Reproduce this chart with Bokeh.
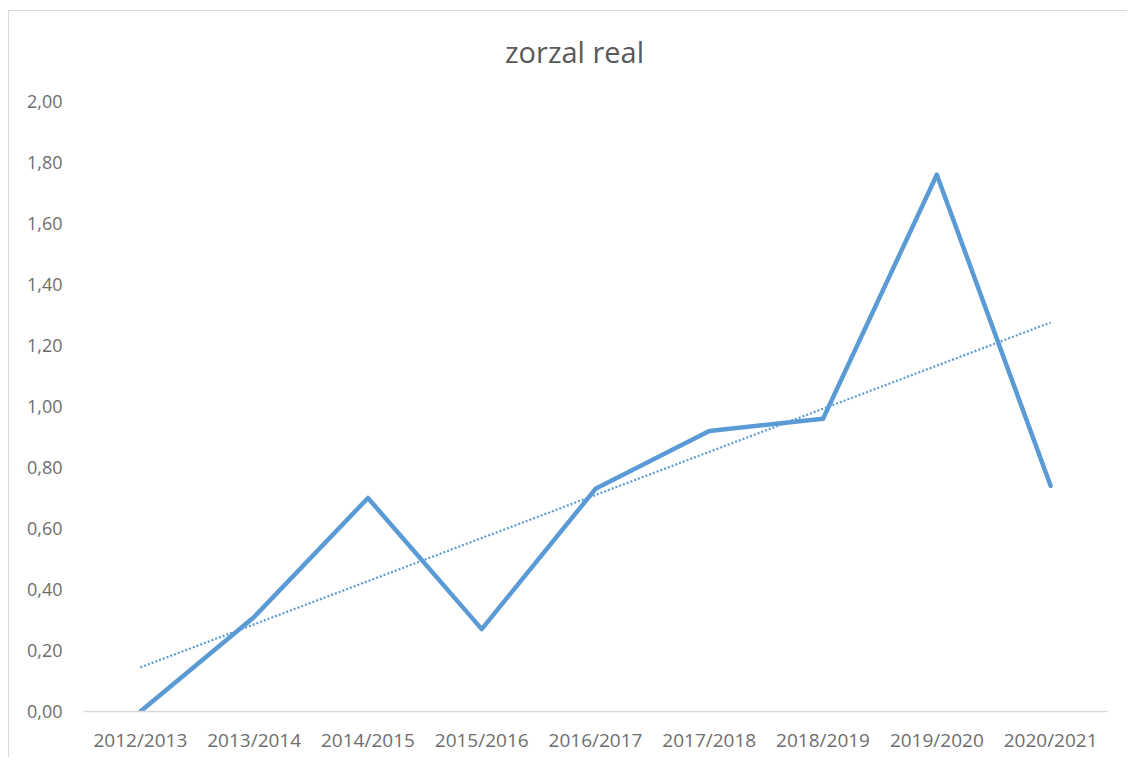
import numpy as np
from bokeh.plotting import figure
from bokeh.layouts import column
from bokeh.models import FactorRange, Range1d, FixedTicker, CustomJSTickFormatter, ColumnDataSource, Div
from bokeh.embed import file_html
from bokeh.resources import INLINE

title_text = "zorzal real"
seasons = ["2012/2013", "2013/2014", "2014/2015", "2015/2016", "2016/2017",
           "2017/2018", "2018/2019", "2019/2020", "2020/2021"]
values = [0.00, 0.31, 0.70, 0.27, 0.73, 0.92, 0.96, 1.76, 0.74]
y_ticks = [0.0, 0.2, 0.4, 0.6, 0.8, 1.0, 1.2, 1.4, 1.6, 1.8, 2.0]

LINE = "#5B9BD5"
TEXT = "#6e6e6e"
FONT = "Open Sans"

TITLE_H = 60

title_div = Div(
    text=('<div style="padding-top:26px; padding-left:496px; line-height:1; '
          'font-family:\'Open Sans\'; font-size:29px; color:#595959; white-space:nowrap;">'
          + title_text + '</div>'),
    width=1118, height=TITLE_H, margin=0)

p = figure(width=1118, height=746 - TITLE_H, output_backend="svg", toolbar_location=None,
           x_range=FactorRange(factors=seasons, range_padding=0),
           y_range=Range1d(0, 2.0),
           min_border_left=74, min_border_right=20, min_border_top=90 - TITLE_H, min_border_bottom=46)
p.outline_line_color = None
p.xgrid.visible = False
p.ygrid.visible = False

src = ColumnDataSource(dict(x=seasons, y=values))
p.line("x", "y", source=src, line_color=LINE, line_width=4.5, line_join="round", line_cap="round")

# linear trendline (least squares over the series)
idx = np.arange(1, len(values) + 1)
slope, intercept = np.polyfit(idx, values, 1)
trend_y = [intercept + slope * idx[0], intercept + slope * idx[-1]]
p.line([seasons[0], seasons[-1]], trend_y, line_color=LINE, line_width=2.2, line_dash="2 2")

p.yaxis.ticker = FixedTicker(ticks=y_ticks)
p.yaxis.formatter = CustomJSTickFormatter(code="return tick.toFixed(2).replace('.', ',');")
p.yaxis.axis_line_color = None
p.yaxis.major_tick_line_color = None
p.yaxis.minor_tick_line_color = None
p.yaxis.major_label_standoff = 15
p.yaxis.major_label_text_font = FONT
p.yaxis.major_label_text_font_size = "18px"
p.yaxis.major_label_text_color = TEXT

p.xaxis.axis_line_color = "#d9d9d9"
p.xaxis.axis_line_width = 1.5
p.xaxis.major_tick_line_color = None
p.xaxis.minor_tick_line_color = None
p.xaxis.major_label_standoff = 9
p.xaxis.major_label_text_font = FONT
p.xaxis.major_label_text_font_size = "19px"
p.xaxis.major_label_text_color = TEXT

layout = column(title_div, p, spacing=0,
                styles={"border-left": "1px solid #d9d9d9", "border-top": "1px solid #d9d9d9",
                        "margin-left": "8px", "margin-top": "10px", "background": "white"})

open("out.html", "w").write(file_html(layout, INLINE))
